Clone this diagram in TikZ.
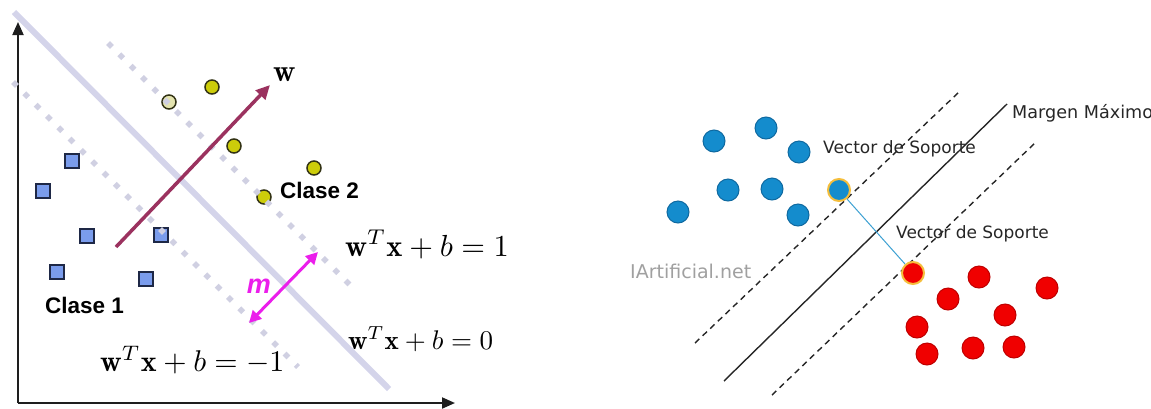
\documentclass[tikz,border=0pt]{standalone}
\usepackage{graphicx}
\usepackage{fontspec}
\usetikzlibrary{arrows.meta}
\newfontfamily\dejavu{DejaVu Sans}
\newfontfamily\libsans{Liberation Sans}
\definecolor{lav}{RGB}{212,212,234}
\definecolor{lavdot}{RGB}{208,208,226}
\definecolor{sqfill}{RGB}{122,156,236}
\definecolor{sqedge}{RGB}{30,40,70}
\definecolor{ycfill}{RGB}{205,205,10}
\definecolor{ycedge}{RGB}{50,50,20}
\definecolor{ycpale}{RGB}{228,228,175}
\definecolor{warrowc}{RGB}{155,50,95}
\definecolor{mag}{RGB}{235,30,235}
\definecolor{axisc}{RGB}{30,30,30}
\definecolor{bluept}{RGB}{20,140,205}
\definecolor{blueedge}{RGB}{15,105,160}
\definecolor{redpt}{RGB}{240,0,0}
\definecolor{rededge}{RGB}{190,0,0}
\definecolor{halo}{RGB}{245,190,60}
\definecolor{connc}{RGB}{60,160,210}
\definecolor{wmgray}{RGB}{160,160,160}
\tikzset{
  axisline/.style={line width=2pt, draw=axisc, -{Triangle[length=13pt,width=11pt]}},
  sepline/.style={line width=6pt, draw=lav},
  marginline/.style={line width=5.5pt, draw=lavdot, dash pattern=on 5.5pt off 10.5pt},
  sq/.style={rectangle, draw=sqedge, fill=sqfill, line width=1.5pt, minimum size=14pt, inner sep=0pt},
  yc/.style={circle, draw=ycedge, fill=ycfill, line width=1.5pt, minimum size=14pt, inner sep=0pt},
  warrow/.style={line width=3.5pt, draw=warrowc, -{Triangle[length=14pt,width=13pt]}},
  marrow/.style={line width=3pt, draw=mag, {Triangle[length=12pt,width=12pt]}-{Triangle[length=12pt,width=12pt]}},
  eq/.style={anchor=base west, inner sep=0pt},
  clase/.style={anchor=base west, inner sep=0pt, font=\libsans\bfseries\fontsize{22.5}{26}\selectfont},
  bp/.style={circle, draw=blueedge, fill=bluept, line width=1pt, minimum size=22pt, inner sep=0pt},
  rp/.style={circle, draw=rededge, fill=redpt, line width=1pt, minimum size=22pt, inner sep=0pt},
  rline/.style={line width=1.4pt, draw=black!85},
  rdash/.style={line width=1.4pt, draw=black!85, dash pattern=on 6pt off 4.5pt},
  conn/.style={line width=1pt, draw=connc},
  rlabel/.style={anchor=west, inner sep=0pt, font=\dejavu\fontsize{17}{20}\selectfont, text=black!85},
}
\begin{document}
\begin{tikzpicture}[x=1pt,y=-1pt]
\useasboundingbox (0,0) rectangle (1151,408);
\clip (0,0) rectangle (1151,408);
% ---------- left panel ----------
\coordinate (o) at (18,403);
\coordinate (ytop) at (18,22);
\coordinate (xend) at (455,403);
\draw[axisline] (o) -- (ytop);
\draw[axisline] (o) -- (xend);
% data points
\node[sq] (s1) at (72,161) {};
\node[sq] (s2) at (43,191) {};
\node[sq] (s3) at (87,236) {};
\node[sq] (s4) at (161,235) {};
\node[sq] (s5) at (57,272) {};
\node[sq] (s6) at (146,279) {};
\node[yc, fill=ycpale] (c1) at (169,102) {};
\node[yc] (c2) at (212,87) {};
\node[yc] (c3) at (234,146) {};
\node[yc] (c4) at (314,168) {};
\node[yc] (c5) at (264,197) {};
% hyperplanes
\coordinate (h0a) at (14,12);
\coordinate (h0b) at (389,389);
\coordinate (h1a) at (108,43);
\coordinate (h1b) at (350,285);
\coordinate (h2a) at (13,82);
\coordinate (h2b) at (298,367);
\draw[sepline] (h0a) -- (h0b);
\draw[marginline] (h1a) -- (h1b);
\draw[marginline] (h2a) -- (h2b);
% w vector
\coordinate (wstart) at (116,247);
\coordinate (wtip) at (270,85);
\draw[warrow] (wstart) -- (wtip);
\node[anchor=base west, inner sep=0pt] (wlab) at (273,81) {\scalebox{3.1}{$\mathbf{w}$}};
% margin arrow
\coordinate (ma) at (249,323);
\coordinate (mb) at (318,252);
\draw[marrow] (ma) -- (mb);
\node[inner sep=0pt, text=mag, font=\libsans\bfseries\itshape\fontsize{27}{30}\selectfont] (mlab) at (259,286) {m};
% labels
\node[clase] (cl1) at (45,313) {Clase 1};
\node[clase] (cl2) at (280,198) {Clase 2};
\node[eq] (e1) at (345,256) {\scalebox{3.05}{$\mathbf{w}^T\mathbf{x}+b=1$}};
\node[eq] (e0) at (348,349) {\scalebox{2.7}{$\mathbf{w}^T\mathbf{x}+b=0$}};
\node[eq] (em) at (100,371) {\scalebox{3.0}{$\mathbf{w}^T\mathbf{x}+b=-1$}};
% ---------- right panel ----------
\coordinate (ua) at (695,343);
\coordinate (ub) at (959,92);
\coordinate (sa) at (724,381);
\coordinate (sb) at (1007,104);
\coordinate (la) at (772,395);
\coordinate (lb) at (1036,142);
\draw[rdash] (ua) -- (ub);
\draw[rline] (sa) -- (sb);
\draw[rdash] (la) -- (lb);
% blue points
\node[bp] (b1) at (714,141) {};
\node[bp] (b2) at (766,128) {};
\node[bp] (b3) at (799,152) {};
\node[bp] (b4) at (728,190) {};
\node[bp] (b5) at (772,189) {};
\node[bp] (b6) at (678,212) {};
\node[bp] (b7) at (798,215) {};
\node[bp, draw=halo, line width=2pt] (bs) at (839,190) {};
% red points
\node[rp, draw=halo, line width=2pt] (rs) at (913,273) {};
\node[rp] (r1) at (979,277) {};
\node[rp] (r2) at (1047,288) {};
\node[rp] (r3) at (948,299) {};
\node[rp] (r4) at (1005,315) {};
\node[rp] (r5) at (917,327) {};
\node[rp] (r6) at (927,354) {};
\node[rp] (r7) at (973,348) {};
\node[rp] (r8) at (1014,347) {};
\draw[conn] (bs) -- (rs);
% labels
\node[rlabel] (vs1) at (823,149) {Vector de Soporte};
\node[rlabel] (vs2) at (896,234) {Vector de Soporte};
\node[rlabel, font=\dejavu\fontsize{17.6}{20}\selectfont] (mm) at (1012,113) {Margen Máximo};
\node[rlabel, text=wmgray, font=\dejavu\fontsize{19}{22}\selectfont] (wm) at (630,271) {IArtificial.net};
\end{tikzpicture}
\end{document}
